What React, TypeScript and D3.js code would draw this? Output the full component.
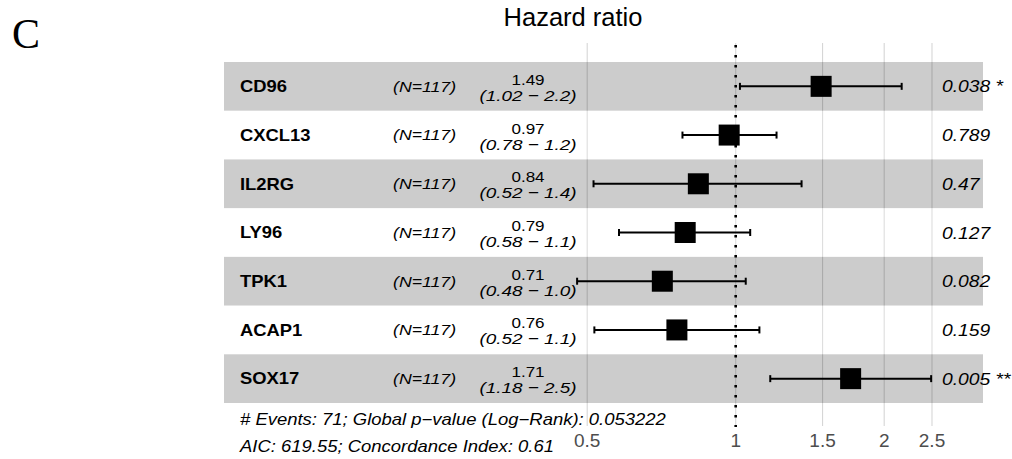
import React from 'react'
import * as d3 from 'd3'

// values
const genes = ['CD96', 'CXCL13', 'IL2RG', 'LY96', 'TPK1', 'ACAP1', 'SOX17']
const nLabels = ['(N=117)', '(N=117)', '(N=117)', '(N=117)', '(N=117)', '(N=117)', '(N=117)']
const hr = [1.49, 0.97, 0.84, 0.79, 0.71, 0.76, 1.71]
const lower = [1.02, 0.78, 0.515, 0.58, 0.477, 0.517, 1.175]
const upper = [2.17, 1.21, 1.36, 1.07, 1.048, 1.117, 2.49]
const ciLabels = [
  '(1.02 \u2212 2.2)',
  '(0.78 \u2212 1.2)',
  '(0.52 \u2212 1.4)',
  '(0.58 \u2212 1.1)',
  '(0.48 \u2212 1.0)',
  '(0.52 \u2212 1.1)',
  '(1.18 \u2212 2.5)'
]
const pLabels = ['0.038 *', '0.789', '0.47', '0.127', '0.082', '0.159', '0.005 **']
const xTicks = [0.5, 1, 1.5, 2, 2.5]
const footer = [
  '# Events: 71; Global p\u2212value (Log\u2212Rank): 0.053222',
  'AIC: 619.55; Concordance Index: 0.61'
]

const W = 1012
const H = 459
const font = "'Liberation Sans', Arial, Helvetica, sans-serif"

const Txt = ({ x, y, size, sx = 1.15, anchor = 'start', weight = 'normal', italic = false, fill = '#000', family = font, children }: any) => (
  <text
    transform={`translate(${x},${y}) scale(${sx},1)`}
    textAnchor={anchor}
    fontSize={size}
    fontWeight={weight}
    fontStyle={italic ? 'italic' : 'normal'}
    fill={fill}
    fontFamily={family}
  >
    {children}
  </text>
)

export default function App() {
  const x = d3.scaleLog().domain([0.5, 2.5]).range([587.2, 932])
  const y = d3.scaleBand<string>().domain(genes).range([62, 403]).paddingInner(0)
  const bw = y.bandwidth()
  const cy = (g: string) => (y(g) as number) + bw / 2
  const panelTop = 43
  const panelBottom = 426
  const bandLeft = 224
  const bandRight = 983
  const box = 21
  const cap = 3.5
  const fmt = d3.format('.2f')

  return (
    <svg width={W} height={H} style={{ position: 'absolute', left: 0, top: 0, background: '#fff' }}>
      <rect x={0} y={0} width={W} height={H} fill="#fff" />

      <text x={12} y={48} fontFamily="'Liberation Serif', 'Times New Roman', serif" fontSize={42}>C</text>
      <text x={573} y={26} textAnchor="middle" fontFamily={font} fontSize={25.5}>Hazard ratio</text>

      {/* grid */}
      {xTicks.map(t => (
        <line key={t} x1={x(t)} x2={x(t)} y1={panelTop} y2={panelBottom} stroke="#d6d6d6" strokeWidth={1.1} />
      ))}

      {/* alternating bands */}
      {genes.map((g, i) => (
        <rect
          key={g}
          x={bandLeft}
          y={y(g)}
          width={bandRight - bandLeft}
          height={bw}
          fill={i % 2 === 0 ? '#000' : '#fff'}
          fillOpacity={0.2}
        />
      ))}

      {/* reference line */}
      <line x1={x(1)} x2={x(1)} y1={panelTop + 2} y2={panelBottom + 1} stroke="#000" strokeWidth={2.6} strokeDasharray="2.4 7.6" />

      {/* CIs and points */}
      {genes.map((g, i) => (
        <g key={g}>
          <line x1={x(lower[i])} x2={x(upper[i])} y1={cy(g)} y2={cy(g)} stroke="#000" strokeWidth={2} />
          <line x1={x(lower[i])} x2={x(lower[i])} y1={cy(g) - cap} y2={cy(g) + cap} stroke="#000" strokeWidth={2} />
          <line x1={x(upper[i])} x2={x(upper[i])} y1={cy(g) - cap} y2={cy(g) + cap} stroke="#000" strokeWidth={2} />
          <rect x={x(hr[i]) - box / 2} y={cy(g) - box / 2} width={box} height={box} fill="#000" />
        </g>
      ))}

      {/* table text */}
      {genes.map((g, i) => (
        <g key={g}>
          <Txt x={240} y={cy(g) + 5.8} size={16} weight="bold">{g}</Txt>
          <Txt x={393} y={cy(g) + 5.3} size={15.4} italic>{nLabels[i]}</Txt>
          <Txt x={528} y={cy(g) - 1.5} size={15.5} anchor="middle" sx={1.1}>{fmt(hr[i])}</Txt>
          <Txt x={528} y={cy(g) + 14.5} size={15.5} anchor="middle" italic sx={1.22}>{ciLabels[i]}</Txt>
          <Txt x={942} y={cy(g) + 6} size={17.2} italic sx={1.12}>{pLabels[i]}</Txt>
        </g>
      ))}

      {/* axis labels */}
      {xTicks.map(t => (
        <text key={t} x={x(t)} y={447} textAnchor="middle" fontFamily={font} fontSize={19} fill="#4d4d4d">
          {String(t)}
        </text>
      ))}

      {/* footer annotation */}
      <Txt x={240} y={425} size={16.2} italic sx={1.14}>{footer[0]}</Txt>
      <Txt x={240} y={452} size={16.2} italic sx={1.14}>{footer[1]}</Txt>
    </svg>
  )
}
